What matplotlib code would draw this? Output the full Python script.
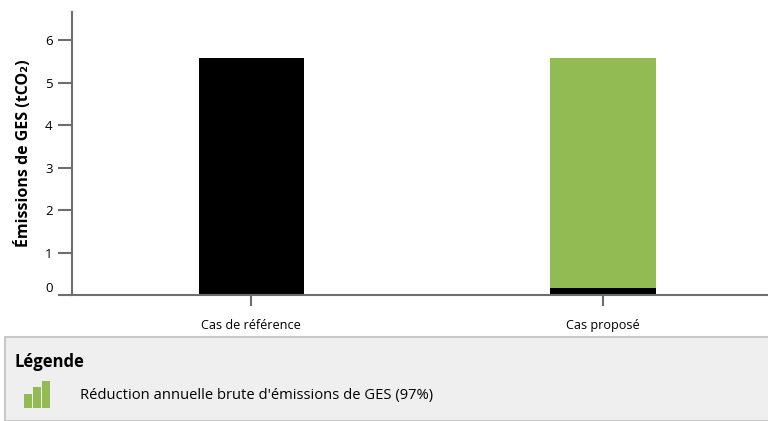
import matplotlib.pyplot as plt
from matplotlib.patches import Rectangle

plt.rcParams['font.family'] = ['Open Sans', 'DejaVu Sans']

# ----------- Donnees -----------
cas = ['Cas de référence', 'Cas proposé']
emissions_base = [5.58, 0.17]      # partie noire (emissions restantes)
reduction = [0.0, 5.41]            # partie verte (reduction)
yticks = [0, 1, 2, 3, 4, 5, 6]
legende_txt = "Réduction annuelle brute d'émissions de GES (97%)"

noir = '#000000'
vert = '#92bb53'
gris = '#6e6e6e'

# ----------- Figure -----------
fig = plt.figure(figsize=(7.68, 4.21), dpi=100)
ax = fig.add_axes([72 / 768, (421 - 295) / 421, 1 - 72 / 768, (295 - 12) / 421])

x = range(len(cas))
ax.bar(x, emissions_base, width=0.3, color=noir)
ax.bar(x, reduction, width=0.3, bottom=emissions_base, color=vert)

ax.set_xlim(-0.51, 1.47)
ax.set_ylim(0, 6.66)
ax.set_xticks(list(x))
ax.set_xticklabels(cas, fontsize=9.1)
ax.set_yticks(yticks)
ax.set_yticklabels([str(v) for v in yticks], fontsize=9.5)
ax.get_yticklabels()[0].set_va('bottom')

for s in ['top', 'right']:
    ax.spines[s].set_visible(False)
for s in ['left', 'bottom']:
    ax.spines[s].set_color(gris)
    ax.spines[s].set_linewidth(1.5)
ax.tick_params(axis='y', length=10, width=1.5, color=gris, pad=4)
ax.tick_params(axis='x', length=8, width=1.5, color=gris, pad=9)

ax.set_ylabel('Émissions de GES (tCO₂)', fontsize=11.5, fontweight='bold', labelpad=9)

# ----------- Legende (panneau gris) -----------
panneau = Rectangle((5 / 768, 0.0), 770 / 768, (421 - 337) / 421,
                    transform=fig.transFigure, facecolor='#efefef',
                    edgecolor='#c8c8c8', linewidth=1.5, zorder=0)
fig.patches.append(panneau)
fig.text(15 / 768, 1 - 362 / 421, 'Légende', fontsize=12, fontweight='bold', va='center')

# petite icone en barres
for i, h in enumerate([14, 21, 27]):
    fig.patches.append(Rectangle(((24 + i * 9) / 768, (421 - 408) / 421), 7.5 / 768, h / 421,
                                 transform=fig.transFigure, facecolor=vert, edgecolor='none'))
fig.text(80 / 768, 1 - 396 / 421, legende_txt, fontsize=10.6, va='center')

fig.savefig('out.png', dpi=100)
